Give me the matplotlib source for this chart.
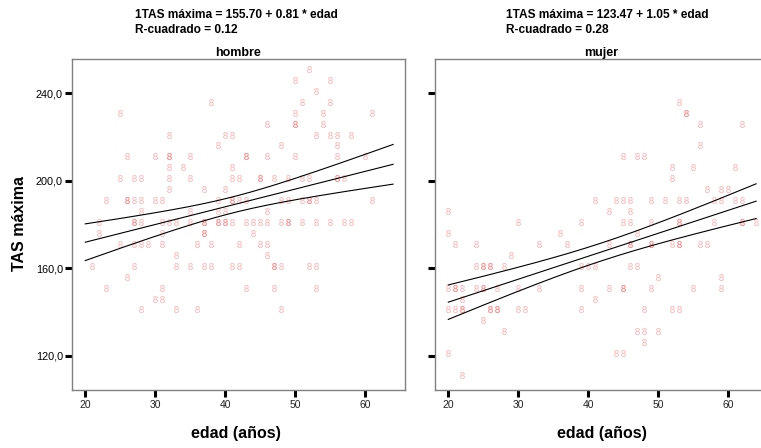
import numpy as np
import matplotlib
matplotlib.use("Agg")
import matplotlib.pyplot as plt
from matplotlib.transforms import offset_copy

plt.rcParams['font.family'] = ['Liberation Sans', 'DejaVu Sans']

# TAS máxima (mmHg) -> edades observadas, por panel
hombre_rows = {
    250: [52],
    245: [50, 55],
    240: [53],
    235: [38, 51, 55],
    230: [25, 50, 54, 61],
    225: [46, 50, 50, 54],
    220: [32, 40, 41, 53, 55, 56, 58],
    215: [39, 48, 56],
    210: [26, 30, 32, 32, 35, 43, 43, 46, 50, 56, 60],
    205: [32, 34, 41],
    200: [25, 27, 28, 32, 35, 41, 42, 45, 45, 47, 49, 51, 52, 56, 56, 57],
    195: [32, 37, 40],
    190: [23, 26, 26, 27, 28, 30, 31, 39, 41, 41, 42, 43, 48, 49, 51, 52,
          52, 53, 61],
    185: [28, 35, 39, 40, 46],
    180: [22, 27, 27, 28, 31, 32, 33, 35, 37, 37, 39, 39, 40, 40, 41, 43,
          44, 45, 46, 48, 49, 49, 51, 53, 55, 57, 58],
    175: [22, 31, 37, 37, 44],
    170: [25, 27, 28, 29, 31, 36, 38, 42, 45, 46],
    165: [33, 46],
    160: [21, 27, 33, 35, 37, 38, 41, 42, 47, 47, 48, 52, 53],
    155: [26],
    150: [23, 31, 43, 47, 53],
    145: [30, 31],
    140: [28, 33, 36, 48],
}

mujer_rows = {
    235: [53],
    230: [54, 54],
    225: [56, 62],
    215: [56],
    210: [45, 47, 48],
    205: [52, 55, 61],
    200: [52],
    195: [57, 59, 60],
    190: [41, 44, 45, 46, 49, 51, 53, 54, 58, 59, 61, 62],
    185: [20, 43, 46],
    180: [30, 39, 45, 46, 49, 53, 53, 58, 62, 62, 64],
    175: [20, 36, 47],
    170: [21, 24, 33, 37, 43, 46, 46, 49, 49, 52, 53, 53, 56, 57],
    165: [29],
    160: [24, 25, 25, 26, 26, 28, 39, 40, 41, 46, 47],
    155: [50, 59],
    150: [20, 21, 21, 22, 24, 25, 25, 27, 30, 33, 39, 43, 45, 45, 49, 55, 59],
    145: [22, 41],
    140: [20, 21, 22, 22, 26, 26, 27, 27, 30, 31, 39, 48, 52, 53],
    135: [25],
    130: [28, 47, 48, 50],
    125: [48],
    120: [20, 44, 45],
    110: [22],
}

# coeficientes indicados en la figura
intercepts = [155.70, 123.47]
slopes = [0.81, 1.05]
r2_labels = ["0.12", "0.28"]
panel_names = ["hombre", "mujer"]

y_ticks = [120, 160, 200, 240]
y_ticklabels = ["120,0", "160,0", "200,0", "240,0"]
x_ticks = [20, 30, 40, 50, 60]


def rows_to_xy(rows):
    x, y = [], []
    for tas, edades in rows.items():
        x += edades
        y += [tas] * len(edades)
    return np.array(x, float), np.array(y, float)


def mean_band(x, y, b0, b1, xs, t=1.97):
    # IC 95% de la media alrededor de la recta ajustada
    n = len(x)
    resid = y - (b0 + b1 * x)
    s = np.sqrt(np.sum(resid**2) / (n - 2))
    sxx = np.sum((x - x.mean())**2)
    half = t * s * np.sqrt(1 / n + (xs - x.mean())**2 / sxx)
    fit = b0 + b1 * xs
    return fit - half, fit, fit + half


W, H = 761, 448
fig = plt.figure(figsize=(W / 100, H / 100), dpi=100)
lefts = [72, 435]
title_x = [135, 506]
xlab_x = [236, 602]

all_x = np.concatenate([rows_to_xy(hombre_rows)[0], rows_to_xy(mujer_rows)[0]])
xs = np.linspace(all_x.min(), all_x.max(), 200)

for i, rows in enumerate([hombre_rows, mujer_rows]):
    ax = fig.add_axes([lefts[i] / W, 1 - 390 / H, 333 / W, 331 / H])
    x, y = rows_to_xy(rows)
    # the SPSS glyph sits a little above its value
    glyph_tr = offset_copy(ax.transData, fig=fig, x=0, y=2.5, units="dots")
    ax.plot(x, y, linestyle="none", marker="$8$", markersize=5,
            color="red", alpha=0.3, markeredgewidth=0, transform=glyph_tr)

    lo, fit, hi = mean_band(x, y, intercepts[i], slopes[i], xs)
    for curve in (lo, fit, hi):
        ax.plot(xs, curve, color="black", lw=0.8)

    ax.set_xlim(18.1, 65.7)
    ax.set_ylim(104.3, 255.7)
    ax.set_xticks(x_ticks)
    ax.set_yticks(y_ticks)
    if i == 0:
        ax.set_yticklabels(y_ticklabels)
    else:
        ax.set_yticklabels([])
    ax.tick_params(direction="out", length=5, width=2.2, color="black",
                   labelsize=7.8, pad=1.5)
    ax.tick_params(axis="x", labelsize=7.5, labelcolor="#222222", pad=2.5)
    for sp in ax.spines.values():
        sp.set_color("#808080")
        sp.set_linewidth(1.0)
    ax.set_title(panel_names[i], fontsize=9, fontweight="bold", pad=1.5)

    fig.text(title_x[i] / W, 1 - 14.5 / H,
             f"1TAS máxima = {intercepts[i]:.2f} + {slopes[i]:.2f} * edad",
             fontsize=8.6, fontweight="bold", ha="left", va="center")
    fig.text(title_x[i] / W, 1 - 30 / H, f"R-cuadrado = {r2_labels[i]}",
             fontsize=8.6, fontweight="bold", ha="left", va="center")
    fig.text(xlab_x[i] / W, 1 - 433 / H, "edad (años)", fontsize=11.5,
             fontweight="bold", ha="center", va="center")

fig.text(20 / W, 1 - 223 / H, "TAS máxima", rotation=90, fontsize=11.5,
         fontweight="bold", ha="center", va="center")

fig.savefig("out.png", dpi=100)
